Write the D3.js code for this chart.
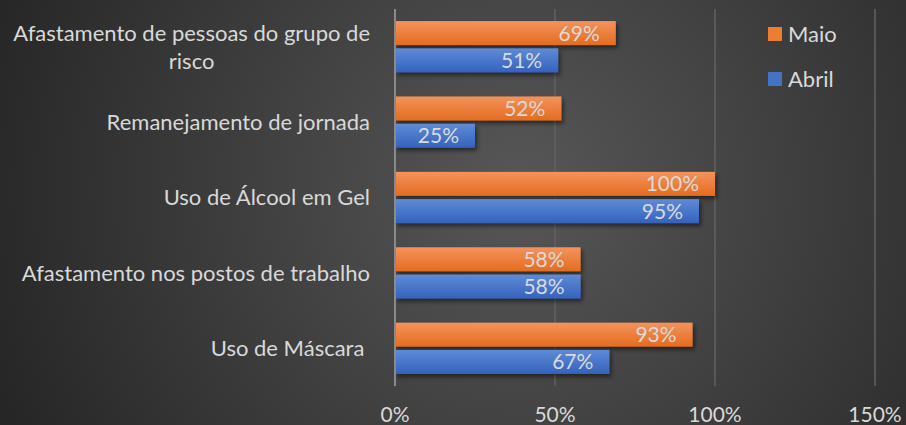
<!DOCTYPE html>
<html>
<head>
<meta charset="utf-8">
<script src="https://cdn.jsdelivr.net/npm/d3@7"></script>
<style>
  body { margin: 0; background: #2b2b2b; }
  svg { display: block; font-family: Lato, "Open Sans", sans-serif; }
  .lbl { white-space: pre; }
</style>
</head>
<body>
<svg width="906" height="425"></svg>
<script>
// data
var categories = ["Afastamento de pessoas do grupo de risco", "Remanejamento de jornada",
                  "Uso de Álcool em Gel", "Afastamento nos postos de trabalho", "Uso de Máscara "];
var maio = [69, 52, 100, 58, 93];
var abril = [51, 25, 95, 58, 67];
var seriesNames = ["Maio", "Abril"];
var ticks = [0, 50, 100, 150];

var svg = d3.select("svg"),
    width = +svg.attr("width"),
    height = +svg.attr("height");

var defs = svg.append("defs");

var bg = defs.append("radialGradient")
    .attr("id", "bg")
    .attr("gradientUnits", "userSpaceOnUse")
    .attr("cx", 520).attr("cy", 190).attr("r", 560);
bg.append("stop").attr("offset", "0%").attr("stop-color", "#575757");
bg.append("stop").attr("offset", "100%").attr("stop-color", "#262626");

function barGrad(id, top, bottom) {
  var gr = defs.append("linearGradient").attr("id", id)
      .attr("x1", 0).attr("y1", 0).attr("x2", 0).attr("y2", 1);
  gr.append("stop").attr("offset", "0%").attr("stop-color", top);
  gr.append("stop").attr("offset", "100%").attr("stop-color", bottom);
}
barGrad("gMaio", "#f4935c", "#e46c1f");
barGrad("gAbril", "#5f8bd6", "#3462bd");

var shadow = defs.append("filter").attr("id", "shadow")
    .attr("x", "-5%").attr("y", "-20%").attr("width", "115%").attr("height", "160%");
shadow.append("feDropShadow").attr("dx", 2).attr("dy", 3).attr("stdDeviation", 2)
    .attr("flood-color", "#000").attr("flood-opacity", 0.5);

svg.append("rect").attr("width", width).attr("height", height).attr("fill", "url(#bg)");

var x = d3.scaleLinear().domain([0, 150]).range([395, 875]);
var y = d3.scaleBand().domain(categories).range([9, 386]).paddingInner(0.32).paddingOuter(0.16);
var ySub = d3.scaleBand().domain(seriesNames).range([0, y.bandwidth()]).paddingInner(0.12);
var color = { Maio: "url(#gMaio)", Abril: "url(#gAbril)" };
var legendColor = d3.scaleOrdinal(seriesNames, ["#ed7d31", "#4472c4"]);

// gridlines
svg.append("g")
   .attr("stroke", "#626262")
   .attr("stroke-width", 1.5)
   .selectAll("line")
   .data(ticks.slice(1))
   .enter().append("line")
   .attr("x1", function(d) { return x(d); })
   .attr("x2", function(d) { return x(d); })
   .attr("y1", 9).attr("y2", 386);

// tick labels
svg.append("g")
   .selectAll("text")
   .data(ticks)
   .enter().append("text")
   .attr("x", function(d) { return x(d); })
   .attr("y", 422)
   .attr("text-anchor", "middle")
   .attr("fill", "#d9d9d9")
   .attr("font-size", 21)
   .text(function(d) { return d + "%"; });

var rows = categories.map(function(c, i) {
  return { cat: c, values: [{ s: "Maio", v: maio[i] }, { s: "Abril", v: abril[i] }] };
});

var group = svg.selectAll(".cat")
   .data(rows)
   .enter().append("g")
   .attr("class", "cat")
   .attr("transform", function(d) { return "translate(0," + y(d.cat) + ")"; });

group.selectAll("rect")
   .data(function(d) { return d.values; })
   .enter().append("rect")
   .attr("x", x(0))
   .attr("y", function(d) { return ySub(d.s); })
   .attr("width", function(d) { return x(d.v) - x(0); })
   .attr("height", ySub.bandwidth())
   .attr("fill", function(d) { return color[d.s]; })
   .attr("filter", "url(#shadow)");

group.selectAll("text.val")
   .data(function(d) { return d.values; })
   .enter().append("text")
   .attr("class", "val")
   .attr("x", function(d) { return x(d.v) - 16; })
   .attr("y", function(d) { return ySub(d.s) + ySub.bandwidth() / 2; })
   .attr("dy", "0.36em")
   .attr("text-anchor", "end")
   .attr("fill", "#dadada")
   .attr("font-size", 21)
   .text(function(d) { return d.v + "%"; });

// zero axis line
svg.append("line")
   .attr("x1", x(0)).attr("x2", x(0))
   .attr("y1", 9).attr("y2", 386)
   .attr("stroke", "#8a8a8a").attr("stroke-width", 2);

// category labels, wrapped like the original
var labelLines = [["Afastamento de pessoas do grupo de", "risco"]];
svg.append("g")
   .selectAll("text")
   .data(categories)
   .enter().append("text")
   .attr("class", "lbl")
   .attr("fill", "#d9d9d9")
   .attr("font-size", 22)
   .each(function(d, i) {
     var lines = i === 0 ? labelLines[0] : [d];
     var t = d3.select(this);
     var cy = y(d) + y.bandwidth() / 2;
     var lh = 28;
     var top = cy - (lines.length - 1) * lh / 2;
     lines.forEach(function(l, j) {
       t.append("tspan").attr("x", 370).attr("y", top + j * lh)
        .attr("dy", "0.36em").attr("text-anchor", "end").text(l);
     });
     if (lines.length > 1) {
       // centre the short line under the long one
       var w = t.select("tspan").node().getComputedTextLength();
       t.selectAll("tspan").filter(function(_, j) { return j > 0; })
        .attr("x", 370 - w / 2).attr("text-anchor", "middle");
     }
   });

// legend
var legend = svg.append("g")
   .selectAll("g")
   .data(seriesNames)
   .enter().append("g")
   .attr("transform", function(d, i) { return "translate(768," + (27 + i * 45) + ")"; });
legend.append("rect").attr("width", 14).attr("height", 14)
   .attr("fill", function(d) { return legendColor(d); });
legend.append("text").attr("x", 20).attr("y", 7).attr("dy", "0.36em")
   .attr("fill", "#d9d9d9").attr("font-size", 22)
   .text(function(d) { return d; });
</script>
</body>
</html>
